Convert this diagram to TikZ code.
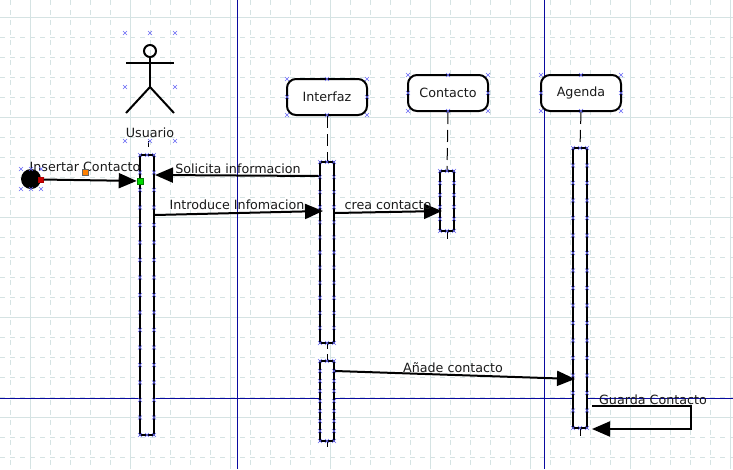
\documentclass[tikz,border=0pt]{standalone}
\usepackage{fontspec}
\setmainfont{DejaVu Sans}
\usetikzlibrary{arrows.meta}
\definecolor{gridcol}{HTML}{D5E3E3}
\definecolor{guidecol}{HTML}{0A0AA0}
\definecolor{handcol}{HTML}{6A6AF5}
\definecolor{labelcol}{HTML}{1A1A1A}
\tikzset{
  gridmajor/.style={gridcol,line width=1pt},
  gridminor/.style={gridcol,line width=1pt,dash pattern=on 5pt off 5pt},
  guide/.style={guidecol,line width=1pt},
  handle/.style={handcol,line width=.45pt},
  objbox/.style={draw,line width=2pt,rounded corners=9pt,fill=white,minimum width=80pt,minimum height=36pt,inner sep=0pt,text=labelcol},
  lifebar/.style={draw,line width=2pt,fill=white,minimum width=14pt,inner sep=0pt},
  lifedash/.style={line width=1pt,dash pattern=on 12pt off 6pt},
  msg/.style={line width=2pt,-{Triangle[length=18pt,width=15pt]}},
  msglabel/.style={text=labelcol,inner sep=0pt},
  port/.style={draw,line width=.6pt,minimum size=6pt,inner sep=0pt}
}
\newcommand{\hcross}[2]{\draw[handle] (#1,#2) +(-2,-2) -- +(2,2) +(-2,2) -- +(2,-2);}
% handles round a bar: left, right, top, bottom
\newcommand{\barhandles}[5]{%
  \foreach \k in {0,...,#5}{
    \pgfmathsetmacro{\hy}{#3+(#4-#3)*\k/#5}
    \hcross{#1}{\hy}
    \hcross{#2}{\hy}
  }
  \hcross{#1/2+#2/2}{#3}
  \hcross{#1/2+#2/2}{#4}
}
\begin{document}
\begin{tikzpicture}[x=1pt,y=-1pt,font=\fontsize{12.7}{15}\selectfont,>=latex]
\useasboundingbox (0,0) rectangle (733,469);
\fill[white] (0,0) rectangle (733,469);
% grid
\foreach \gx in {10.5,50.5,70.5,90.5,110.5,150.5,170.5,190.5,210.5,250.5,270.5,290.5,310.5,350.5,370.5,390.5,410.5,450.5,470.5,490.5,510.5,550.5,570.5,590.5,610.5,650.5,670.5,690.5,710.5}
  \draw[gridminor] (\gx,0) -- (\gx,469);
\foreach \gy in {37.5,57.5,77.5,97.5,137.5,157.5,177.5,197.5,237.5,257.5,277.5,297.5,337.5,357.5,377.5,397.5,437.5,457.5}
  \draw[gridminor] (0,\gy) -- (733,\gy);
\foreach \gx in {30.5,130.5,230.5,330.5,430.5,530.5,630.5,730.5}
  \draw[gridmajor] (\gx,0) -- (\gx,469);
\foreach \gy in {17.5,117.5,217.5,317.5,417.5}
  \draw[gridmajor] (0,\gy) -- (733,\gy);
\draw[guide] (237.5,0) -- (237.5,469);
\draw[guide] (544.5,0) -- (544.5,469);
\draw[guide] (0,398.5) -- (733,398.5);
% objects
\node[objbox] (interfaz) at (327,97) {Interfaz};
\node[objbox] (contacto) at (448,93) {Contacto};
\node[objbox] (agenda) at (581,93) {Agenda};
% bars
\node[lifebar,minimum height=280pt] (usuarioBar) at (147,295) {};
\node[lifebar,minimum height=181pt] (interfazBar) at (327,252.5) {};
\node[lifebar,minimum height=80pt] (interfazBarB) at (327,401) {};
\node[lifebar,minimum height=60pt] (contactoBar) at (447,201) {};
\node[lifebar,minimum height=280pt] (agendaBar) at (580,288) {};
% lifelines
\draw[lifedash] (interfaz.south) -- (interfazBar.north);
\draw[lifedash] (contacto.south) -- (contactoBar.north);
\draw[lifedash] (agenda.south) -- (agendaBar.north);
\draw[line width=1pt] (148,141) -- (148,147);
\draw[line width=1pt] (interfazBar.south) -- +(0,5);
\draw[line width=1pt] (interfazBarB.north) -- +(0,-6);
\draw[line width=1pt] (interfazBarB.south) -- +(0,5);
\draw[line width=1pt] (contactoBar.south) -- +(0,7);
\draw[line width=1pt] (agendaBar.south) -- +(0,7);
% actor
\draw[line width=2pt] (150,51) circle (6);
\draw[line width=2pt] (150,57) -- (150,87);
\draw[line width=2pt] (126,62.5) -- (174,62.5);
\draw[line width=2pt] (126,113) -- (150,87) -- (174,113);
\node[msglabel] (usuario) at (150,133) {Usuario};
% start state
\node[circle,fill=black,minimum size=20pt,inner sep=0pt] (inicio) at (31,179) {};
\node[port,draw=red!70!black,fill=red!80!black,minimum size=5pt] (inicioPort) at (41,179.5) {};
\node[port,draw=green!50!black,fill=green!85!black,minimum size=6pt] (usuarioPort) at (140,181) {};
% messages
\draw[msg] (inicioPort) -- (usuarioPort);
\coordinate (solicitaIni) at (interfazBar.west |- 0,176);
\coordinate (solicitaFin) at (usuarioBar.east |- 0,175);
\draw[msg] (solicitaIni) -- (solicitaFin);
\coordinate (introIni) at (usuarioBar.east |- 0,215);
\coordinate (introFin) at (323,211);
\draw[msg] (introIni) -- (introFin);
\coordinate (creaIni) at (interfazBar.east |- 0,213);
\coordinate (creaFin) at (442,211);
\draw[msg] (creaIni) -- (creaFin);
\coordinate (anadeIni) at (interfazBarB.east |- 0,371);
\coordinate (anadeFin) at (575,379);
\draw[msg] (anadeIni) -- (anadeFin);
\coordinate (guardaIni) at (592,406);
\coordinate (guardaFin) at (592,429);
\draw[msg] (guardaIni) -- (691,406) -- (691,429) -- (guardaFin);
\node[msglabel] at (85,167) {Insertar Contacto};
\node[draw=black!60,line width=.6pt,fill=orange,minimum size=6pt,inner sep=0pt] (insertarMark) at (85.5,172) {};
\node[msglabel] at (238,169) {Solicita informacion};
\node[msglabel] at (237,205) {Introduce Infomacion};
\node[msglabel] at (388,205) {crea contacto};
\node[msglabel] at (453,368) {Añade contacto};
\node[msglabel] at (653,400) {Guarda Contacto};
% handles
\foreach \hx/\hy in {125/33,150/33,175/33,125/87,175/87,125/141,150/141,175/141,21/169,31/169,41/169,21/189,31/189,41/189}{
  \hcross{\hx}{\hy}
}
\foreach \hx/\hy in {287/79,327/79,367/79,287/97,367/97,287/115,327/115,367/115,408/75,448/75,488/75,408/93,488/93,408/111,448/111,488/111,541/75,581/75,621/75,541/93,621/93,541/111,581/111,621/111}{
  \hcross{\hx}{\hy}
}
\barhandles{140}{154}{155}{435}{16}
\barhandles{320}{334}{162}{343}{12}
\barhandles{320}{334}{361}{441}{8}
\barhandles{440}{454}{171}{231}{5}
\barhandles{573}{587}{148}{428}{16}
\end{tikzpicture}
\end{document}
